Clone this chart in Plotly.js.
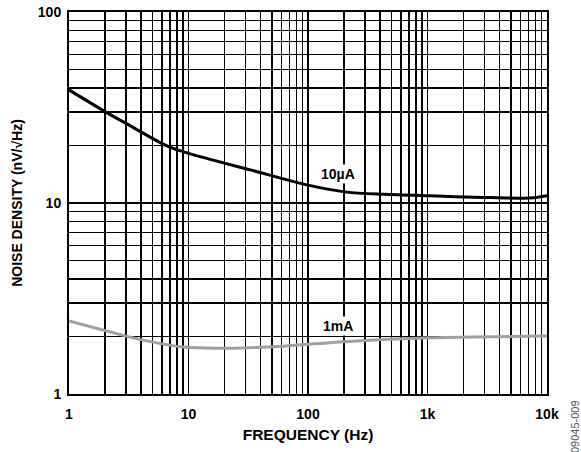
<!DOCTYPE html>
<html>
<head>
<meta charset="utf-8">
<script src="https://cdn.plot.ly/plotly-3.0.1.min.js"></script>
<style>body{margin:0;background:#fff}#chart{width:581px;height:452px}</style>
</head>
<body>
<div id="chart"></div>
<script>
// 10 µA curve
const freq10uA = [1, 2, 3, 6.6, 10, 33, 100, 210, 430, 1050, 2900, 5900, 8200, 10000];
const noise10uA = [39.1, 30.1, 26.1, 19.9, 18.2, 14.9, 12.4, 11.4, 11.1, 10.9, 10.7, 10.6, 10.7, 10.9];
// 1 mA curve
const freq1mA = [1, 3, 4.8, 9, 17, 62, 200, 1050, 10000];
const noise1mA = [2.41, 2.01, 1.88, 1.76, 1.735, 1.78, 1.88, 1.97, 2.01];

const xTickVals = [1, 10, 100, 1000, 10000];
const xTickText = ['1', '10', '100', '1k', '10k'];
const yTickVals = [1, 10, 100];
const yTickText = ['1', '10', '100'];

const fontFam = 'Liberation Sans, Arial, sans-serif';
const bold = a => a.map(s => '<b>' + s + '</b>');

const traces = [
  {x: freq10uA, y: noise10uA, type: 'scatter', mode: 'lines',
   line: {color: '#000000', width: 3, shape: 'spline', smoothing: 0.8}, hoverinfo: 'skip'},
  {x: freq1mA, y: noise1mA, type: 'scatter', mode: 'lines',
   line: {color: '#a0a0a0', width: 3, shape: 'spline', smoothing: 0.8}, hoverinfo: 'skip'}
];

const layout = {
  width: 581, height: 452,
  margin: {l: 69, r: 34, t: 12, b: 58},
  paper_bgcolor: '#ffffff', plot_bgcolor: '#ffffff',
  showlegend: false,
  font: {family: fontFam, color: '#000', size: 14},
  xaxis: {
    type: 'log', range: [0, 4],
    tickmode: 'array', tickvals: xTickVals, ticktext: bold(xTickText),
    ticks: '', ticklabelstandoff: 6,
    showgrid: true, gridcolor: '#000', gridwidth: 1.6,
    minor: {dtick: 'D1', showgrid: true, gridcolor: '#000', gridwidth: 1.3, ticks: ''},
    showline: true, linecolor: '#000', linewidth: 2, mirror: true,
    zeroline: false,
    tickfont: {family: fontFam, size: 14, color: '#000'},
    title: {text: '<b>FREQUENCY (Hz)</b>', font: {family: fontFam, size: 15.5, color: '#000'}, standoff: 8}
  },
  yaxis: {
    type: 'log', range: [0, 2],
    tickmode: 'array', tickvals: yTickVals, ticktext: bold(yTickText),
    ticks: '', ticklabelstandoff: 3,
    showgrid: true, gridcolor: '#000', gridwidth: 1.6,
    minor: {dtick: 'D1', showgrid: true, gridcolor: '#000', gridwidth: 1.3, ticks: ''},
    showline: true, linecolor: '#000', linewidth: 2, mirror: true,
    zeroline: false,
    tickfont: {family: fontFam, size: 14, color: '#000'},
    title: {text: '<b>NOISE DENSITY (nV/√Hz)</b>', font: {family: fontFam, size: 14, color: '#000'}, standoff: 12}
  },
  annotations: [
    {x: Math.log10(178), y: Math.log10(14.2), xref: 'x', yref: 'y', text: '<b>10µA</b>',
     showarrow: false, bgcolor: '#ffffff', font: {family: fontFam, size: 14, color: '#000'}, borderpad: 1},
    {x: Math.log10(178), y: Math.log10(2.27), xref: 'x', yref: 'y', text: '<b>1mA</b>',
     showarrow: false, bgcolor: '#ffffff', font: {family: fontFam, size: 14, color: '#000'}, borderpad: 1},
    {xref: 'paper', yref: 'paper', text: '09045-009', showarrow: false,
     textangle: -90, xanchor: 'center', yanchor: 'middle',
     font: {family: fontFam, size: 11, color: '#555'}}
  ]
};
// figure id label position (pixel location converted to paper coords)
layout.annotations[2].x = (575 - 69) / (581 - 69 - 34);
layout.annotations[2].y = (394 - 427) / (394 - 12);

Plotly.newPlot('chart', traces, layout, {displayModeBar: false, staticPlot: true});
</script>
</body>
</html>
